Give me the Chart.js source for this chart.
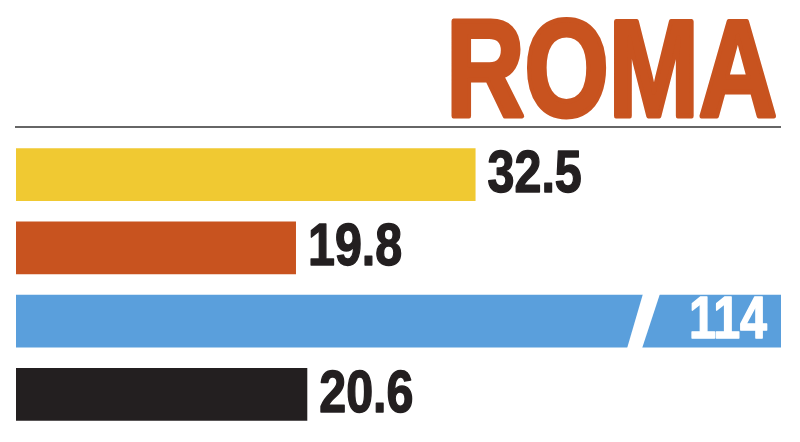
<!DOCTYPE html>
<html>
<head>
<meta charset="utf-8">
<script src="https://cdn.jsdelivr.net/npm/chart.js@4"></script>
<style>
  html, body { margin: 0; padding: 0; background: #fff; }
  #wrap { width: 800px; height: 442px; position: relative; }
</style>
</head>
<body>
<div id="wrap"><canvas id="chart"></canvas></div>
<script>
// data
const categories = ['A', 'B', 'C', 'D'];
const values = [32.5, 19.8, 114, 20.6];
const valueLabels = ['32.5', '19.8', '114', '20.6'];
const barColors = ['#f0c932', '#c8531f', '#5a9fdc', '#231f20'];
const title = 'ROMA';
const axisMax = 54.1; // blue bar is cut (broken bar)

// no narrow font installed, so squeeze the regular bold one
const labelFont = 'bold 59px "Liberation Sans", Arial, sans-serif';
const squeeze = 0.82;

// squeezed text, with an optional stroke to make it look heavier
function narrowText(ctx, text, x, y, align, sx, weight) {
  ctx.save();
  ctx.translate(x, y);
  ctx.scale(sx, 1);
  ctx.textAlign = align;
  ctx.fillText(text, 0, 0);
  if (weight) {
    ctx.strokeStyle = ctx.fillStyle;
    ctx.lineWidth = weight;
    ctx.lineJoin = 'round';
    ctx.strokeText(text, 0, 0);
  }
  ctx.restore();
}

const decor = {
  id: 'decor',
  afterDatasetsDraw(chart) {
    const ctx = chart.ctx;
    const area = chart.chartArea;
    const meta = chart.getDatasetMeta(0);

    // title
    ctx.save();
    ctx.fillStyle = '#c8531f';
    ctx.font = 'bold 137px "Liberation Sans", Arial, sans-serif';
    ctx.textBaseline = 'alphabetic';
    narrowText(ctx, title, 777, 116, 'right', 0.79, 5);
    ctx.restore();

    // rule under the title
    ctx.save();
    ctx.strokeStyle = '#666666';
    ctx.lineWidth = 2;
    ctx.beginPath();
    ctx.moveTo(15, 127);
    ctx.lineTo(781, 127);
    ctx.stroke();
    ctx.restore();

    meta.data.forEach((bar, i) => {
      const top = bar.y - bar.height / 2;
      const bottom = bar.y + bar.height / 2;
      ctx.save();
      ctx.font = labelFont;
      ctx.textBaseline = 'middle';
      if (values[i] > axisMax) {
        // break mark
        const r = area.right;
        ctx.fillStyle = '#ffffff';
        ctx.beginPath();
        ctx.moveTo(r - 138, top - 1);
        ctx.lineTo(r - 121, top - 1);
        ctx.lineTo(r - 139, bottom + 1);
        ctx.lineTo(r - 154, bottom + 1);
        ctx.closePath();
        ctx.fill();
        narrowText(ctx, valueLabels[i], r - 14, bar.y + 1, 'right', squeeze, 1.5);
      } else {
        ctx.fillStyle = '#231f20';
        narrowText(ctx, valueLabels[i], bar.x + 12, bar.y + 1, 'left', squeeze, 1.5);
      }
      ctx.restore();
    });
  }
};

new Chart(document.getElementById('chart'), {
  type: 'bar',
  data: {
    labels: categories,
    datasets: [{
      data: values,
      backgroundColor: barColors,
      borderWidth: 0,
      barPercentage: 0.723,
      categoryPercentage: 1
    }]
  },
  options: {
    indexAxis: 'y',
    responsive: true,
    maintainAspectRatio: false,
    animation: false,
    layout: { padding: { left: 16, right: 19, top: 138, bottom: 11 } },
    plugins: {
      legend: { display: false },
      tooltip: { enabled: false }
    },
    scales: {
      x: { display: false, min: 0, max: axisMax },
      y: { display: false }
    }
  },
  plugins: [decor]
});
</script>
</body>
</html>
